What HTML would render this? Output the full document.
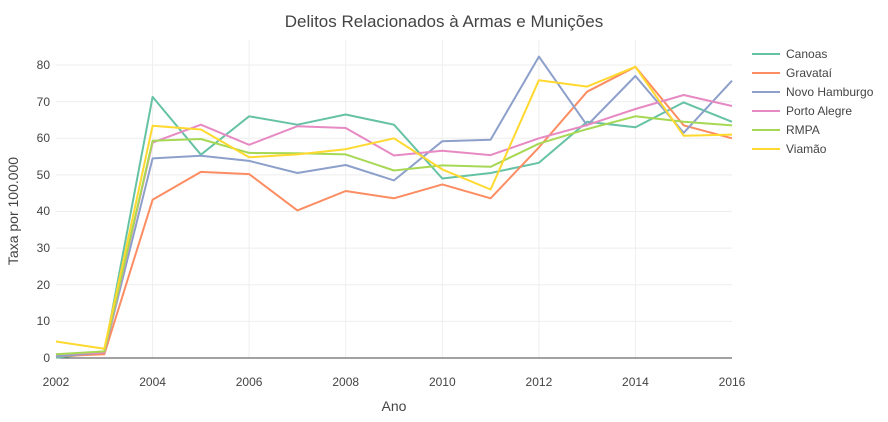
<!DOCTYPE html>
<html><head><meta charset="utf-8"><style>body{margin:0;background:#fff}svg{display:block;font-family:"Liberation Sans",sans-serif}</style></head>
<body>
<svg width="888" height="422" viewBox="0 0 888 422" xmlns="http://www.w3.org/2000/svg">
<rect width="888" height="422" fill="#fff"/>
<g stroke="#eee" stroke-width="1">
<line x1="56" x2="732" y1="321.4" y2="321.4"/><line x1="56" x2="732" y1="284.8" y2="284.8"/>
<line x1="56" x2="732" y1="248.1" y2="248.1"/><line x1="56" x2="732" y1="211.5" y2="211.5"/>
<line x1="56" x2="732" y1="174.9" y2="174.9"/><line x1="56" x2="732" y1="138.3" y2="138.3"/>
<line x1="56" x2="732" y1="101.6" y2="101.6"/><line x1="56" x2="732" y1="65" y2="65"/>
<line x1="152.6" x2="152.6" y1="40" y2="358"/><line x1="249.1" x2="249.1" y1="40" y2="358"/>
<line x1="345.7" x2="345.7" y1="40" y2="358"/><line x1="442.3" x2="442.3" y1="40" y2="358"/>
<line x1="538.9" x2="538.9" y1="40" y2="358"/><line x1="635.4" x2="635.4" y1="40" y2="358"/>
</g>
<line x1="56" x2="732" y1="358" y2="358" stroke="#444" stroke-width="1"/>
<g font-size="12" fill="#444" text-anchor="end">
<text x="50" y="362">0</text><text x="50" y="325">10</text><text x="50" y="289">20</text><text x="50" y="252">30</text>
<text x="50" y="215">40</text><text x="50" y="179">50</text><text x="50" y="142">60</text><text x="50" y="106">70</text><text x="50" y="69">80</text>
</g>
<g font-size="12" fill="#444" text-anchor="middle">
<text x="56" y="386">2002</text><text x="152.6" y="386">2004</text><text x="249.1" y="386">2006</text><text x="345.7" y="386">2008</text>
<text x="442.3" y="386">2010</text><text x="538.9" y="386">2012</text><text x="635.4" y="386">2014</text><text x="732" y="386">2016</text>
</g>
<text x="394" y="411" font-size="14" fill="#444" text-anchor="middle">Ano</text>
<text x="18" y="211" font-size="14" fill="#444" text-anchor="middle" transform="rotate(-90 18 211)">Taxa por 100.000</text>
<text x="444" y="27" font-size="17" fill="#444" text-anchor="middle">Delitos Relacionados à Armas e Munições</text>
<g fill="none" stroke-width="2" stroke-linejoin="round">
<polyline id="p" stroke="#66c2a5" points="56,357.6 104.3,352.5 152.6,96.9 200.9,154.7 249.1,116.3 297.4,124.7 345.7,114.5 394,124.7 442.3,178.5 490.6,173 538.9,162.8 587.1,121.8 635.4,127.3 683.7,102.4 732,121.8"/>
<polyline stroke="#fc8d62" points="56,356.2 104.3,354.3 152.6,199.8 200.9,171.9 249.1,174.1 297.4,210.4 345.7,191 394,198.3 442.3,184.4 490.6,198.3 538.9,147.4 587.1,91.7 635.4,66.8 683.7,125.4 732,138.3"/>
<polyline stroke="#8da0cb" points="56,356.2 104.3,352.5 152.6,158.4 200.9,155.8 249.1,160.9 297.4,173 345.7,165 394,180.4 442.3,141.2 490.6,139.7 538.9,56.6 587.1,125.4 635.4,76 683.7,132.8 732,80.7"/>
<polyline stroke="#e78ac3" points="56,354.3 104.3,352.5 152.6,142.6 200.9,124.7 249.1,144.8 297.4,126.2 345.7,128 394,155.5 442.3,150.7 490.6,155.1 538.9,138.3 587.1,125.1 635.4,109 683.7,95 732,106"/>
<polyline stroke="#a6d854" points="56,354.3 104.3,351.4 152.6,140.8 200.9,139 249.1,152.9 297.4,153.3 345.7,154.4 394,170.5 442.3,165.4 490.6,166.8 538.9,143.7 587.1,129.1 635.4,116.3 683.7,121.8 732,125.4"/>
<polyline stroke="#ffd92f" points="56,341.5 104.3,348.8 152.6,125.8 200.9,129.5 249.1,157.3 297.4,154.4 345.7,149.2 394,138.3 442.3,169.4 490.6,189.5 538.9,80.2 587.1,86.6 635.4,66.8 683.7,135.7 732,134.6"/>
</g>
<g font-size="12" fill="#444">
<line x1="752" x2="780" y1="54" y2="54" stroke="#66c2a5" stroke-width="2"/><text x="786" y="58">Canoas</text>
<line x1="752" x2="780" y1="73" y2="73" stroke="#fc8d62" stroke-width="2"/><text x="786" y="77">Gravataí</text>
<line x1="752" x2="780" y1="92" y2="92" stroke="#8da0cb" stroke-width="2"/><text x="786" y="96">Novo Hamburgo</text>
<line x1="752" x2="780" y1="111" y2="111" stroke="#e78ac3" stroke-width="2"/><text x="786" y="115">Porto Alegre</text>
<line x1="752" x2="780" y1="130" y2="130" stroke="#a6d854" stroke-width="2"/><text x="786" y="134">RMPA</text>
<line x1="752" x2="780" y1="149" y2="149" stroke="#ffd92f" stroke-width="2"/><text x="786" y="153">Viamão</text>
</g>
</svg>
</body></html>
